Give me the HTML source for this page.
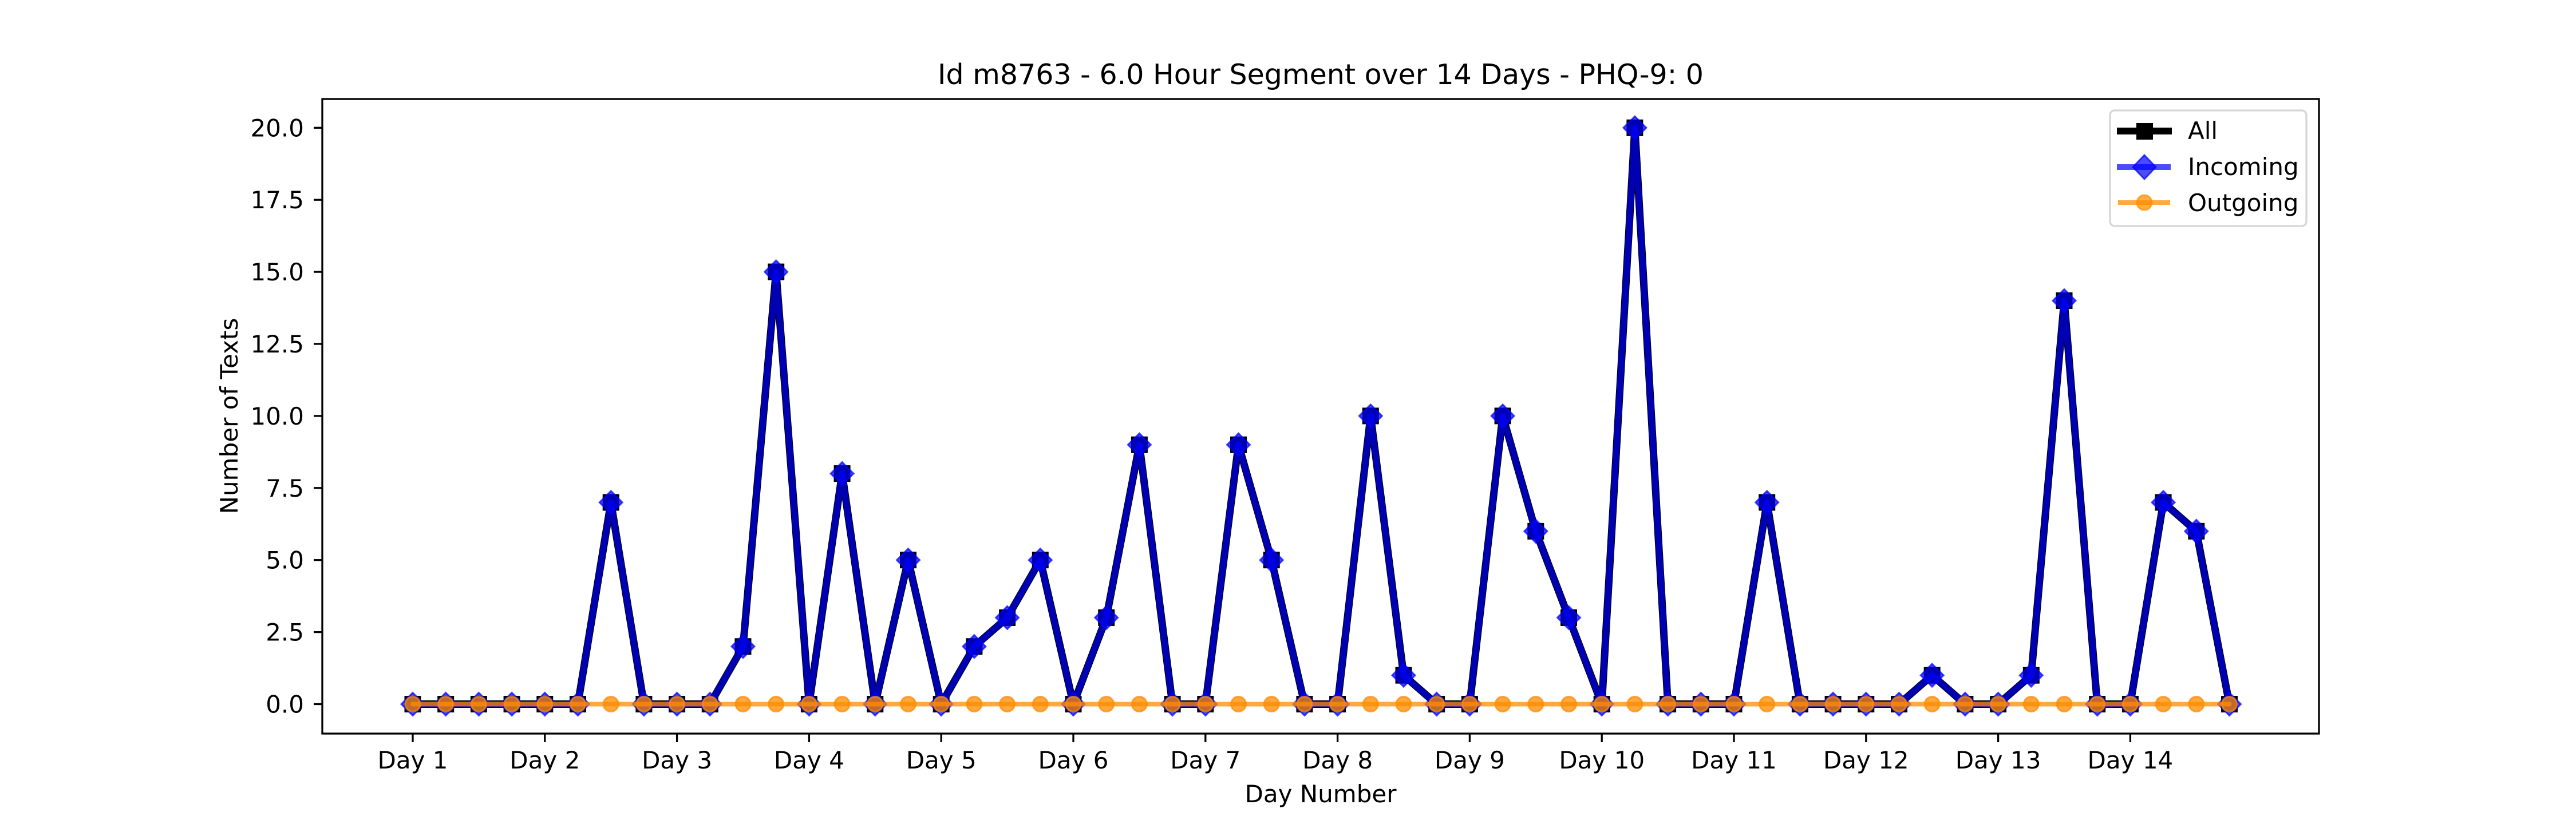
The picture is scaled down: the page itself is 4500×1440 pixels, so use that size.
<!DOCTYPE html>
<html><head><meta charset="utf-8"><style>
html,body{margin:0;padding:0;background:#fff;}
svg{display:block;font-family:"DejaVu Sans","Liberation Sans",sans-serif;}
</style></head><body>
<svg id="chart" width="4500" height="1440" viewBox="0 0 4500 1440" xmlns="http://www.w3.org/2000/svg">
<rect width="4500" height="1440" fill="#fff"/>
<text x="2307" y="147" font-size="49" text-anchor="middle">Id m8763 - 6.0 Hour Segment over 14 Days - PHQ-9: 0</text>
<g id="grid"></g>
<g id="series"></g>
<rect x="563" y="173" width="3488" height="1109" fill="none" stroke="#000" stroke-width="3.3"/>
<g id="axes"></g>
<text x="2307" y="1402" font-size="42" text-anchor="middle">Day Number</text>
<text transform="translate(415,727) rotate(-90)" font-size="42" text-anchor="middle">Number of Texts</text>
<g>
<rect x="3686" y="193" width="343" height="202" rx="8" fill="#fff" fill-opacity="0.8" stroke="#d6d6d6" stroke-width="3.3"/>
<g>
<line x1="3698" y1="229" x2="3794" y2="229" stroke="#000" stroke-width="12"/>
<rect x="3732" y="215" width="29" height="29" fill="#000"/>
<text x="3822" y="243" font-size="42">All</text></g>
<g>
<line x1="3698" y1="292" x2="3792" y2="292" stroke="#0000ff" stroke-opacity="0.7" stroke-width="10"/>
<polygon points="3746,271 3766,292 3746,313 3726,292" fill="#0000ff" fill-opacity="0.7" stroke="#0000ff" stroke-opacity="0.7" stroke-width="3"/>
<text x="3822" y="306" font-size="42">Incoming</text></g>
<g>
<line x1="3700" y1="354" x2="3791" y2="354" stroke="#ff8c00" stroke-opacity="0.75" stroke-width="8"/>
<circle cx="3746" cy="354" r="13" fill="#ff8c00" fill-opacity="0.7" stroke="#ff8c00" stroke-opacity="0.7" stroke-width="3"/>
<text x="3822" y="369" font-size="42">Outgoing</text></g>
</g>
</svg>
<script>
const dayLabels = ["Day 1","Day 2","Day 3","Day 4","Day 5","Day 6","Day 7","Day 8","Day 9","Day 10","Day 11","Day 12","Day 13","Day 14"];
const yTicks = [0,2.5,5,7.5,10,12.5,15,17.5,20];
const allValues = [0,0,0,0, 0,0,7,0, 0,0,2,15, 0,8,0,5, 0,2,3,5, 0,3,9,0, 0,9,5,0, 0,10,1,0, 0,10,6,3, 0,20,0,0, 0,7,0,0, 0,0,1,0, 0,1,14,0, 0,7,6,0];
const incomingValues = [0,0,0,0, 0,0,7,0, 0,0,2,15, 0,8,0,5, 0,2,3,5, 0,3,9,0, 0,9,5,0, 0,10,1,0, 0,10,6,3, 0,20,0,0, 0,7,0,0, 0,0,1,0, 0,1,14,0, 0,7,6,0];
const outgoingValues = [0,0,0,0, 0,0,0,0, 0,0,0,0, 0,0,0,0, 0,0,0,0, 0,0,0,0, 0,0,0,0, 0,0,0,0, 0,0,0,0, 0,0,0,0, 0,0,0,0, 0,0,0,0, 0,0,0,0, 0,0,0,0];
const segmentsPerDay = 4;

const NS = "http://www.w3.org/2000/svg";
const X0 = 721, DAYW = 230.8, Y0 = 1230.5, PXU = 50.36;
function xScale(i){ return X0 + i * DAYW / segmentsPerDay; }
function yScale(v){ return Y0 - v * PXU; }
function mk(tag, attrs, parent){ const e=document.createElementNS(NS,tag); for(const k in attrs) e.setAttribute(k,attrs[k]); parent.appendChild(e); return e; }

const axes = document.getElementById('axes');
dayLabels.forEach((d,i)=>{
  const x = xScale(i*segmentsPerDay);
  const t = mk('line',{x1:x,y1:1282,x2:x,y2:1297,stroke:'#000','stroke-width':3.3},axes);
  
  
  const l = mk('text',{x:x,y:1343,'font-size':42,'text-anchor':'middle'},axes);
  l.textContent = d;
  
  
});
yTicks.forEach(v=>{
  const y = yScale(v);
  const t = mk('line',{x1:548,y1:y,x2:563,y2:y,stroke:'#000','stroke-width':3.3},axes);
  
  
  const l = mk('text',{x:531,y:y+15,'font-size':42,'text-anchor':'end'},axes);
  l.textContent = v.toFixed(1);
  
  
});

const series = document.getElementById('series');
function drawSeries(vals, name, color, opacity, lw, marker){
  const g = mk('g',{},series);
  
  
  const pts = vals.map((v,i)=>xScale(i)+','+yScale(v)).join(' ');
  const pl = mk('polyline',{points:pts,fill:'none',stroke:color,'stroke-opacity':opacity,'stroke-width':lw,'stroke-linejoin':'round','stroke-linecap':'round'},g);
  
  
  vals.forEach((v,i)=>{
    const x=xScale(i), y=yScale(v);
    let m;
    if(marker==='square') m = mk('rect',{x:x-14.5,y:y-14.5,width:29,height:29,fill:color},g);
    else if(marker==='diamond') m = mk('polygon',{points:`${x},${y-20} ${x+20},${y} ${x},${y+20} ${x-20},${y}`,fill:color,'fill-opacity':opacity,stroke:color,'stroke-opacity':opacity,'stroke-width':3},g);
    else m = mk('circle',{cx:x,cy:y,r:13,fill:color,'fill-opacity':opacity,stroke:color,'stroke-opacity':opacity,'stroke-width':3},g);
    
    
  });
}
drawSeries(allValues,'all-series','#000000',1,13,'square');
drawSeries(incomingValues,'incoming-series','#0000ff',0.7,11,'diamond');
drawSeries(outgoingValues,'outgoing-series','#ff8c00',0.75,8,'circle');
</script>
</body></html>
